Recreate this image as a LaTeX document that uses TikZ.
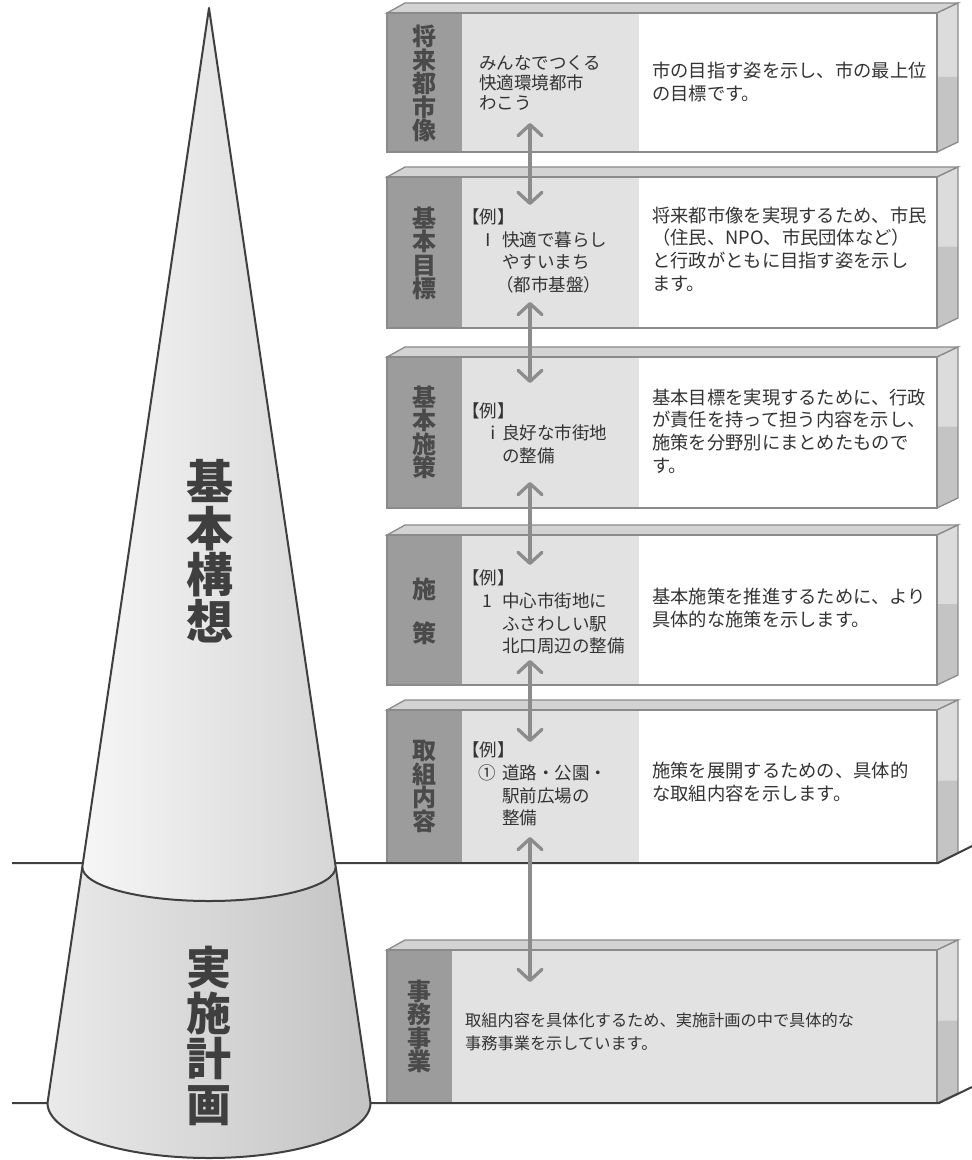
\documentclass[tikz,border=0pt]{standalone}
\usepackage{fontspec}
\setmainfont{Noto Sans CJK JP}
\usetikzlibrary{arrows.meta}
\definecolor{edgec}{HTML}{8A8A8A}
\definecolor{darkcol}{HTML}{9C9C9C}
\definecolor{lightcol}{HTML}{E3E2E3}
\definecolor{topf}{HTML}{D3D3D3}
\definecolor{sideup}{HTML}{DCDCDC}
\definecolor{sidelow}{HTML}{C4C4C4}
\definecolor{labeltxt}{HTML}{4A4A4A}
\definecolor{bodytxt}{HTML}{333333}
\definecolor{groundc}{HTML}{3F3F3F}
\definecolor{arrowc}{HTML}{8C8C8C}
\definecolor{coneA}{HTML}{F6F6F6}
\definecolor{coneB}{HTML}{D6D6D6}
\definecolor{coneC}{HTML}{EAEAEA}
\definecolor{coneD}{HTML}{C3C3C3}
\newcommand\frontbox[4]{%
  \pgfmathsetmacro\splity{#1+0.46*(#2-#1)}%
  \filldraw[fill=topf,draw=edgec,line width=1.3] (387,-#1) -- (405,{-#1+10}) -- (958,{-#1+10}) -- (937,-#1) -- cycle;
  \fill[sideup] (937,-#1) -- (958,{-#1+10}) -- (958,-\splity) -- (937,-\splity) -- cycle;
  \fill[sidelow] (937,-\splity) -- (958,-\splity) -- (958,{-#2+10}) -- (937,-#2) -- cycle;
  \draw[edgec,line width=1.3] (937,-#1) -- (958,{-#1+10}) -- (958,{-#2+10}) -- (937,-#2);
  \fill[white] (387,-#1) rectangle (937,-#2);
  \fill[lightcol] (387,-#1) rectangle (#4,-#2);
  \fill[darkcol] (387,-#1) rectangle (#3,-#2);
  \draw[edgec,line width=1.5] (387,-#1) rectangle (937,-#2);
}
\newcommand\fsz[2]{\fontsize{#1}{#2}\selectfont\lineskiplimit-80pt\relax}
\begin{document}
\begin{tikzpicture}[x=1pt,y=1pt,
  lbl/.style={text=labeltxt,align=center,inner sep=0pt,font={\bfseries\fsz{24}{23.4}}},
  body/.style={text=bodytxt,align=left,anchor=west,inner sep=0pt,font={\fsz{18.3}{22.6}}},
  ex/.style={text=bodytxt,align=left,anchor=west,inner sep=0pt,font={\fsz{17.5}{22.7}}},
  conetxt/.style={text=groundc,align=center,inner sep=0pt},
  ground/.style={draw=groundc,line width=2},
  conel/.style={draw=groundc,line width=2,line join=round},
  dbl/.style={draw=arrowc,line width=3.3,{Straight Barb[length=11pt,width=24pt,round]}-{Straight Barb[length=11pt,width=24pt,round]}}]
\useasboundingbox (0,0) rectangle (972,-1160);
\fill[white] (0,0) rectangle (972,-1160);
% boxes
\frontbox{13}{152}{462}{639}
\frontbox{177}{328}{462}{639}
\frontbox{357}{508}{462}{639}
\frontbox{535}{685}{462}{639}
\frontbox{710}{863}{462}{639}
\frontbox{950}{1103}{452}{937}
% ground lines
\draw[ground] (12,-863) -- (938,-863) -- (972,-846);
\draw[ground] (12,-1103) -- (939,-1103) -- (972,-1087);
% cone
\shade[shading=axis,left color=coneA,right color=coneB] (209,-8) -- (82.3,-867) arc[start angle=180,end angle=360,x radius=126.7,y radius=34] -- cycle;
\shade[shading=axis,left color=coneC,right color=coneD] (82.3,-867) arc[start angle=180,end angle=360,x radius=126.7,y radius=34] -- (370.5,-1103) arc[start angle=0,end angle=-180,x radius=161.5,y radius=55] -- cycle;
\draw[conel] (209,-8) -- (82.3,-867) arc[start angle=180,end angle=360,x radius=126.7,y radius=34] -- cycle;
\draw[conel] (82.3,-867) -- (47.5,-1103) arc[start angle=180,end angle=360,x radius=161.5,y radius=55] -- (335.7,-867);
\node[conetxt,font={\bfseries\fsz{47}{46.5}}] (kihon) at (209.5,-551) {基\\本\\構\\想};
\node[conetxt,font={\bfseries\fsz{45}{45.5}}] (jisshi) at (209,-1036) {実\\施\\計\\画};
% labels
\node[lbl] (l1) at (424.5,-83.5) {将\\来\\都\\市\\像};
\node[lbl] (l2) at (424.5,-253.5) {基\\本\\目\\標};
\node[lbl] (l3) at (424.5,-432.5) {基\\本\\施\\策};
\node[lbl,font={\bfseries\fsz{24}{44}}] (l4) at (424.5,-611) {施\\策};
\node[lbl] (l5) at (424.5,-786.5) {取\\組\\内\\容};
\node[lbl] (l6) at (419.5,-1026.5) {事\\務\\事\\業};
% example column
\node[ex,font={\fsz{17.5}{20}}] (e1) at (479,-82.5) {みんなでつくる\\快適環境都市\\わこう};
\node[ex] (e2) at (462,-251) {【例】\\\makebox[40pt][l]{\hspace{17pt}Ⅰ}快適で暮らし\\\hspace*{40pt}やすいまち\\\hspace*{34pt}（都市基盤）};
\node[ex] (e3) at (462,-433) {【例】\\\makebox[40pt][l]{\hspace{22pt}ⅰ}良好な市街地\\\hspace*{40pt}の整備};
\node[ex] (e4) at (462,-612) {【例】\\\makebox[40pt][l]{\hspace{20pt}1}中心市街地に\\\hspace*{40pt}ふさわしい駅\\\hspace*{40pt}北口周辺の整備};
\node[ex] (e5) at (462,-784) {【例】\\\makebox[40pt][l]{\hspace{16pt}①}道路・公園・\\\hspace*{40pt}駅前広場の\\\hspace*{40pt}整備};
% descriptions
\node[body] (d1) at (652,-82) {市の目指す姿を示し、市の最上位\\の目標です。};
\node[body] (d2) at (652,-249) {将来都市像を実現するため、市民\\（住民、NPO、市民団体など）\\と行政がともに目指す姿を示し\\ます。};
\node[body] (d3) at (652,-431) {基本目標を実現するために、行政\\が責任を持って担う内容を示し、\\施策を分野別にまとめたもので\\す。};
\node[body] (d4) at (652,-608) {基本施策を推進するために、より\\具体的な施策を示します。};
\node[body] (d5) at (652,-782) {施策を展開するための、具体的\\な取組内容を示します。};
\node[body,font={\fsz{16.2}{22.7}}] (d6) at (465,-1032) {取組内容を具体化するため、実施計画の中で具体的な\\事務事業を示しています。};
% arrows
\coordinate (a1t) at (530,-123); \coordinate (a1b) at (530,-205);
\coordinate (a2t) at (530,-302); \coordinate (a2b) at (530,-383);
\coordinate (a3t) at (530,-482); \coordinate (a3b) at (530,-565);
\coordinate (a4t) at (530,-660); \coordinate (a4b) at (530,-742);
\coordinate (a5t) at (530,-837); \coordinate (a5b) at (530,-982);
\draw[dbl] (a1t) -- (a1b);
\draw[dbl] (a2t) -- (a2b);
\draw[dbl] (a3t) -- (a3b);
\draw[dbl] (a4t) -- (a4b);
\draw[dbl] (a5t) -- (a5b);
\end{tikzpicture}
\end{document}
